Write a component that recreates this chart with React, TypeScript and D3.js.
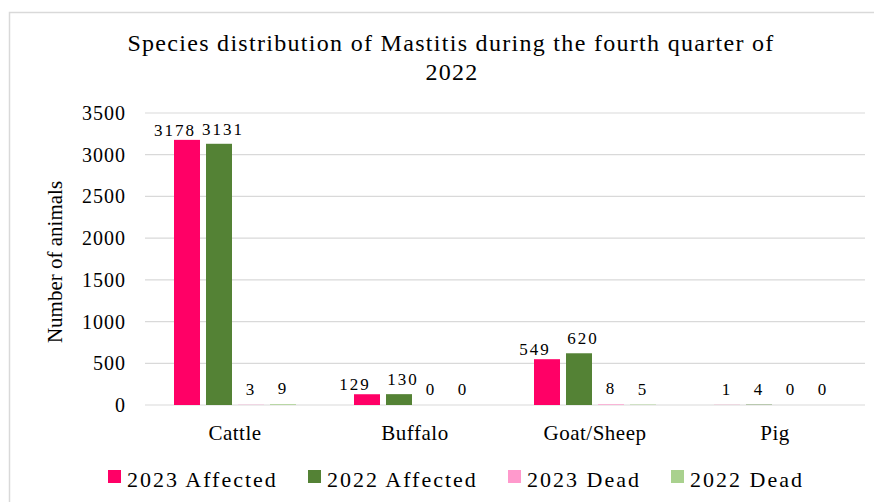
import React from "react";
import * as d3 from "d3";

// Mastitis cases by species, fourth quarter
const species = ["Cattle", "Buffalo", "Goat/Sheep", "Pig"];
const seriesNames = ["2023 Affected", "2022 Affected", "2023 Dead", "2022 Dead"];
const affected2023 = [3178, 129, 549, 1];
const affected2022 = [3131, 130, 620, 4];
const dead2023 = [3, 0, 8, 0];
const dead2022 = [9, 0, 5, 0];
const yTicks = [0, 500, 1000, 1500, 2000, 2500, 3000, 3500];
const seriesColors = ["#FF0066", "#548235", "#FF99CC", "#A9D18E"];

const seriesValues = [affected2023, affected2022, dead2023, dead2022];

const W = 874;
const H = 502;
const plot = { left: 145, right: 865, top: 113, bottom: 405 };
const serif: React.CSSProperties = { fontFamily: "'Liberation Serif'" };

export default function App() {
  const x = d3
    .scaleBand<string>()
    .domain(species)
    .range([plot.left, plot.right])
    .paddingInner(0)
    .paddingOuter(0);

  const y = d3.scaleLinear().domain([0, 3500]).range([plot.bottom, plot.top]);

  // four 26px bars per category with 6px gaps, centred in the band
  const barW = 26;
  const barGap = 6;
  const groupW = seriesNames.length * barW + (seriesNames.length - 1) * barGap;
  const barX = (cat: string, si: number) =>
    (x(cat) as number) + x.bandwidth() / 2 - groupW / 2 + si * (barW + barGap);

  // wide labels of the two affected series are pushed apart so they don't collide
  const labelDx = (si: number, v: number) =>
    String(v).length >= 3 ? [-12, 4, 0, 0][si] : 0;
  const labelDy = (si: number, v: number) =>
    String(v).length >= 3 ? [4, 9, 10, 10][si] : 10;

  const legendX = [108, 308, 508, 671];

  return (
    <svg
      width={W}
      height={H}
      style={{ position: "absolute", left: 0, top: 0, background: "#fff" }}
    >
      <rect x={0} y={0} width={W} height={H} fill="#fff" />
      <rect
        x={9.5}
        y={12.5}
        width={W + 20}
        height={H + 20}
        fill="none"
        stroke="#d9d9d9"
        strokeWidth={1.5}
      />

      {/* title */}
      <text x={451} y={51} textAnchor="middle" fontSize={24} letterSpacing={1.3} fill="#000" style={serif}>
        Species distribution of Mastitis during the fourth quarter of
      </text>
      <text x={452} y={80} textAnchor="middle" fontSize={24} letterSpacing={1.3} fill="#000" style={serif}>
        2022
      </text>

      {/* gridlines */}
      {yTicks.map((t) => (
        <line
          key={"g" + t}
          x1={plot.left}
          x2={plot.right}
          y1={y(t)}
          y2={y(t)}
          stroke="#d9d9d9"
          strokeWidth={1.2}
        />
      ))}

      {/* y tick labels */}
      {yTicks.map((t) => (
        <text
          key={"t" + t}
          x={126}
          y={y(t) + 7}
          textAnchor="end"
          fontSize={20}
          letterSpacing={1}
          fill="#000"
          style={serif}
        >
          {t}
        </text>
      ))}

      {/* y axis title */}
      <text
        transform={`translate(62,262) rotate(-90)`}
        textAnchor="middle"
        fontSize={21}
        fill="#000"
        style={serif}
      >
        Number of animals
      </text>

      {/* bars */}
      {seriesValues.map((vals, si) =>
        species.map((cat, ci) => (
          <rect
            key={`b${si}-${ci}`}
            x={barX(cat, si)}
            y={y(vals[ci])}
            width={barW}
            height={Math.max(0, y(0) - y(vals[ci]))}
            fill={seriesColors[si]}
          />
        ))
      )}

      {/* value labels */}
      {seriesValues.map((vals, si) =>
        species.map((cat, ci) => (
          <text
            key={`l${si}-${ci}`}
            x={barX(cat, si) + barW / 2 + labelDx(si, vals[ci])}
            y={y(vals[ci]) - labelDy(si, vals[ci])}
            textAnchor="middle"
            fontSize={17}
            letterSpacing={2}
            fill="#000"
            style={serif}
          >
            {vals[ci]}
          </text>
        ))
      )}

      {/* category labels */}
      {species.map((cat) => (
        <text
          key={"c" + cat}
          x={(x(cat) as number) + x.bandwidth() / 2}
          y={440}
          textAnchor="middle"
          fontSize={21}
          letterSpacing={0.5}
          fill="#000"
          style={serif}
        >
          {cat}
        </text>
      ))}

      {/* legend */}
      {seriesNames.map((name, i) => (
        <g key={"lg" + name} transform={`translate(${legendX[i]},0)`}>
          <rect x={0} y={470} width={13} height={13} fill={seriesColors[i]} />
          <text x={19} y={487} fontSize={22} letterSpacing={2} fill="#000" style={serif}>
            {name}
          </text>
        </g>
      ))}
    </svg>
  );
}
